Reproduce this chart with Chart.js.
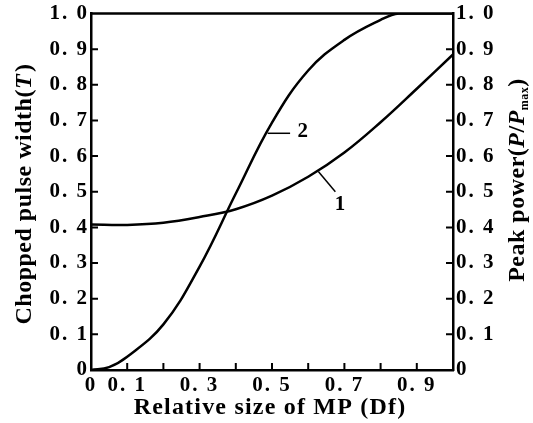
<!DOCTYPE html>
<html>
<head>
<meta charset="utf-8">
<script src="https://cdn.jsdelivr.net/npm/chart.js@4.4.0/dist/chart.umd.min.js"></script>
<style>
  html, body { margin: 0; padding: 0; background: #fff; }
  #wrap { width: 533px; height: 423px; position: relative; }
</style>
</head>
<body>
<div id="wrap"><canvas id="chart"></canvas></div>
<script>
// curve 1 - chopped pulse width T
const curve1X = [0, 0.1, 0.2, 0.3, 0.4, 0.5, 0.6, 0.7, 0.8, 0.9, 1.0];
const curve1Y = [0.408, 0.407, 0.413, 0.429, 0.451, 0.489, 0.542, 0.61, 0.695, 0.789, 0.885];
// curve 2 - peak power P/Pmax
const curve2X = [0, 0.05, 0.1, 0.2, 0.3, 0.4, 0.5, 0.6, 0.7, 0.8, 0.85, 1.0];
const curve2Y = [0, 0.008, 0.037, 0.128, 0.29, 0.495, 0.694, 0.84, 0.926, 0.982, 1.0, 1.0];
// x values that get a label (ticks are every 0.1)
const xLabelTicks = [0, 0.1, 0.3, 0.5, 0.7, 0.9];

const FONT = '"Liberation Serif", "DejaVu Serif", serif';
const fmt = v => {
  const r = Math.round(v * 10) / 10;
  return r === 0 ? '0' : r.toFixed(1).replace('.', '. ');
};

// curve tags "1" and "2" with short leader lines (data coords)
const curveTags = [
  { text: '2', at: [0.585, 0.668], from: [0.488, 0.664], to: [0.55, 0.664] },
  { text: '1', at: [0.688, 0.464], from: [0.628, 0.557], to: [0.675, 0.5] }
];

// draw a run of text pieces centred on (cx, cy), optionally rotated
function drawRich(ctx, parts, cx, cy, rot, spacing) {
  ctx.save();
  ctx.translate(cx, cy);
  ctx.rotate(rot || 0);
  ctx.letterSpacing = (spacing || 0) + 'px';
  ctx.textBaseline = 'alphabetic';
  ctx.textAlign = 'left';
  ctx.fillStyle = '#000';
  let w = 0;
  parts.forEach(p => { ctx.font = p.font; p.w = ctx.measureText(p.t).width + (p.gap || 0); w += p.w; });
  let x = -w / 2;
  parts.forEach(p => {
    ctx.font = p.font;
    ctx.fillText(p.t, x, 8 + (p.dy || 0));
    x += p.w;
  });
  ctx.restore();
}

const framePlugin = {
  id: 'frame',
  beforeDraw(chart) {
    // wider tick label spacing, like the printed figure
    chart.ctx.letterSpacing = '2px';
  },
  afterDatasetsDraw(chart) {
    const { ctx, chartArea: a, scales } = chart;
    ctx.save();
    ctx.letterSpacing = '0px';
    ctx.strokeStyle = '#000';
    // top border
    ctx.lineWidth = 2.5;
    ctx.beginPath();
    ctx.moveTo(a.left - 1, a.top);
    ctx.lineTo(a.right + 1, a.top);
    ctx.stroke();
    // inward tick marks
    ctx.lineWidth = 2;
    ctx.beginPath();
    scales.x.ticks.forEach(t => {
      if (t.value <= 0 || t.value >= 1) return;
      const px = scales.x.getPixelForValue(t.value);
      ctx.moveTo(px, a.bottom); ctx.lineTo(px, a.bottom - 7);
    });
    scales.y.ticks.forEach(t => {
      if (t.value <= 0 || t.value >= 1) return;
      const py = scales.y.getPixelForValue(t.value);
      ctx.moveTo(a.left, py); ctx.lineTo(a.left + 7, py);
    });
    scales.y2.ticks.forEach(t => {
      if (t.value <= 0 || t.value >= 1) return;
      const py = scales.y2.getPixelForValue(t.value);
      ctx.moveTo(a.right, py); ctx.lineTo(a.right - 7, py);
    });
    ctx.stroke();
    // curve tags
    ctx.lineWidth = 1.5;
    ctx.fillStyle = '#000';
    ctx.font = 'bold 21px ' + FONT;
    ctx.textAlign = 'center';
    ctx.textBaseline = 'middle';
    curveTags.forEach(c => {
      ctx.beginPath();
      ctx.moveTo(scales.x.getPixelForValue(c.from[0]), scales.y.getPixelForValue(c.from[1]));
      ctx.lineTo(scales.x.getPixelForValue(c.to[0]), scales.y.getPixelForValue(c.to[1]));
      ctx.stroke();
      ctx.fillText(c.text, scales.x.getPixelForValue(c.at[0]), scales.y.getPixelForValue(c.at[1]));
    });
    ctx.restore();

    // axis titles
    const b = 'bold 24px ' + FONT, bi = 'italic bold 24px ' + FONT, sm = 'bold 12px ' + FONT;
    drawRich(ctx, [
      { t: 'Chopped pulse width(', font: b },
      { t: 'T', font: bi, gap: 2 },
      { t: ')', font: b }
    ], 23, 194, -Math.PI / 2, 0.5);
    drawRich(ctx, [
      { t: 'Peak power(', font: b },
      { t: 'P', font: bi },
      { t: '/', font: b },
      { t: 'P', font: bi },
      { t: 'max', font: sm, dy: 4 },
      { t: ')', font: b }
    ], 516, 180, -Math.PI / 2, 0.5);
    drawRich(ctx, [
      { t: 'Relative size of MP (Df)', font: b }
    ], 270, 406, 0, 1.2);
  }
};

Chart.defaults.color = '#000';
Chart.defaults.font.family = FONT;

const tickFont = { family: FONT, size: 21, weight: 'bold', lineHeight: 1 };

new Chart(document.getElementById('chart'), {
  type: 'line',
  data: {
    datasets: [
      {
        label: '1',
        data: curve1X.map((x, i) => ({ x, y: curve1Y[i] })),
        yAxisID: 'y',
        borderColor: '#000',
        borderWidth: 2.5,
        pointRadius: 0,
        fill: false,
        tension: 0.4
      },
      {
        label: '2',
        data: curve2X.map((x, i) => ({ x, y: curve2Y[i] })),
        yAxisID: 'y2',
        borderColor: '#000',
        borderWidth: 2.5,
        pointRadius: 0,
        fill: false,
        tension: 0.4
      }
    ]
  },
  options: {
    responsive: true,
    maintainAspectRatio: false,
    animation: false,
    layout: { padding: { top: 11, left: 0, right: 0, bottom: 0 } },
    plugins: { legend: { display: false }, tooltip: { enabled: false } },
    scales: {
      x: {
        type: 'linear', min: 0, max: 1,
        grid: { display: false, drawTicks: false },
        border: { display: true, color: '#000', width: 2.5 },
        ticks: {
          stepSize: 0.1, autoSkip: false, maxRotation: 0, padding: 5, font: tickFont,
          callback: v => xLabelTicks.some(t => Math.abs(t - v) < 1e-6) ? fmt(v) : ''
        },
        afterFit: s => { s.height = 53; }
      },
      y: {
        type: 'linear', position: 'left', min: 0, max: 1,
        grid: { display: false, drawTicks: false },
        border: { display: true, color: '#000', width: 2.5 },
        ticks: { stepSize: 0.1, autoSkip: false, padding: 2, font: tickFont, callback: fmt },
        afterFit: s => { s.width = 91; }
      },
      y2: {
        type: 'linear', position: 'right', min: 0, max: 1,
        grid: { display: false, drawTicks: false },
        border: { display: true, color: '#000', width: 2.5 },
        ticks: { stepSize: 0.1, autoSkip: false, padding: 3, font: tickFont, callback: fmt },
        afterFit: s => { s.width = 80; }
      }
    }
  },
  plugins: [framePlugin]
});
</script>
</body>
</html>
